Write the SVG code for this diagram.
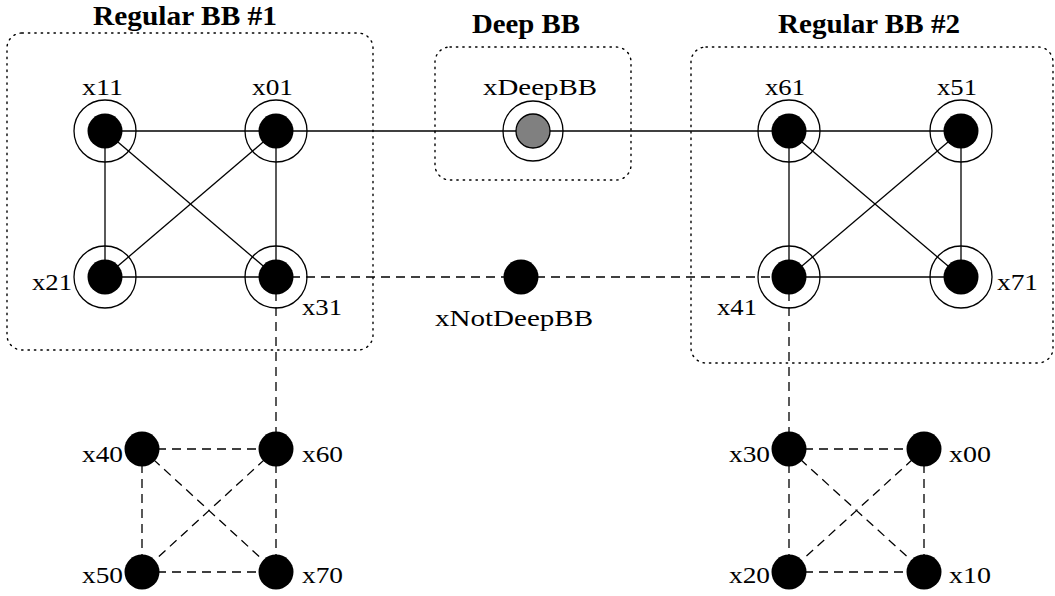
<svg xmlns="http://www.w3.org/2000/svg" width="1055" height="596" viewBox="0 0 1055 596">
  <style>
    .box { fill: none; stroke: #000; stroke-width: 1.4; stroke-dasharray: 1.4 5; stroke-linecap: round; }
    .title { font-family: "Liberation Serif", "Times New Roman", serif; font-weight: bold; font-size: 27px; fill: #000; }
    .lbl { font-family: "Liberation Serif", "Times New Roman", serif; font-size: 24px; fill: #000; }
    .solid { stroke: #000; stroke-width: 1.3; fill: none; }
    .dash { stroke: #000; stroke-width: 1.3; fill: none; stroke-dasharray: 9 6; }
    .ring { fill: none; stroke: #000; stroke-width: 1.3; }
    .core { fill: #000; }
    .deep { fill: #808080; stroke: #000; stroke-width: 1.3; }
  </style>

  <!-- basic-block frames -->
  <g id="frames">
    <rect class="box" x="7" y="33" width="366" height="317" rx="15" ry="15"/>
    <rect class="box" x="435" y="47" width="196" height="133" rx="15" ry="15"/>
    <rect class="box" x="691" y="47" width="362" height="316" rx="15" ry="15"/>
    <text class="title" x="93" y="25" textLength="184" lengthAdjust="spacingAndGlyphs">Regular BB #1</text>
    <text class="title" x="472" y="33" textLength="108" lengthAdjust="spacingAndGlyphs">Deep BB</text>
    <text class="title" x="778" y="33" textLength="182" lengthAdjust="spacingAndGlyphs">Regular BB #2</text>
  </g>

  <!-- edges -->
  <g id="connectors">
    <line class="solid" x1="105" y1="131" x2="276" y2="131"/>
    <line class="solid" x1="105" y1="131" x2="105" y2="277"/>
    <line class="solid" x1="105" y1="131" x2="276" y2="277"/>
    <line class="solid" x1="276" y1="131" x2="105" y2="277"/>
    <line class="solid" x1="276" y1="131" x2="276" y2="277"/>
    <line class="solid" x1="105" y1="277" x2="276" y2="277"/>
    <line class="solid" x1="276" y1="131" x2="533" y2="131"/>
    <line class="solid" x1="533" y1="131" x2="789" y2="131"/>
    <line class="solid" x1="789" y1="131" x2="961" y2="131"/>
    <line class="solid" x1="789" y1="131" x2="789" y2="277"/>
    <line class="solid" x1="789" y1="131" x2="961" y2="277"/>
    <line class="solid" x1="961" y1="131" x2="789" y2="277"/>
    <line class="solid" x1="961" y1="131" x2="961" y2="277"/>
    <line class="solid" x1="789" y1="277" x2="961" y2="277"/>

    <line class="dash" x1="276" y1="277" x2="521" y2="277"/>
    <line class="dash" x1="521" y1="277" x2="789" y2="277"/>
    <line class="dash" x1="276" y1="277" x2="276" y2="449"/>
    <line class="dash" x1="789" y1="277" x2="789" y2="449"/>

    <line class="dash" x1="142" y1="449" x2="276" y2="449"/>
    <line class="dash" x1="142" y1="449" x2="142" y2="572"/>
    <line class="dash" x1="142" y1="449" x2="276" y2="572"/>
    <line class="dash" x1="276" y1="449" x2="142" y2="572"/>
    <line class="dash" x1="276" y1="449" x2="276" y2="572"/>
    <line class="dash" x1="142" y1="572" x2="276" y2="572"/>

    <line class="dash" x1="789" y1="449" x2="924" y2="449"/>
    <line class="dash" x1="789" y1="449" x2="789" y2="572"/>
    <line class="dash" x1="789" y1="449" x2="924" y2="572"/>
    <line class="dash" x1="924" y1="449" x2="789" y2="572"/>
    <line class="dash" x1="924" y1="449" x2="924" y2="572"/>
    <line class="dash" x1="789" y1="572" x2="924" y2="572"/>
  </g>

  <!-- Regular BB #1 -->
  <g id="x11"><circle class="ring" cx="105" cy="131" r="31"/><circle class="core" cx="105" cy="131" r="17.5"/>
    <text class="lbl" x="82" y="95" textLength="41" lengthAdjust="spacingAndGlyphs">x11</text></g>
  <g id="x01"><circle class="ring" cx="276" cy="131" r="31"/><circle class="core" cx="276" cy="131" r="17.5"/>
    <text class="lbl" x="252" y="95" textLength="41" lengthAdjust="spacingAndGlyphs">x01</text></g>
  <g id="x21"><circle class="ring" cx="105" cy="277" r="31"/><circle class="core" cx="105" cy="277" r="17.5"/>
    <text class="lbl" x="32" y="290" textLength="40" lengthAdjust="spacingAndGlyphs">x21</text></g>
  <g id="x31"><circle class="ring" cx="276" cy="277" r="31"/><circle class="core" cx="276" cy="277" r="17.5"/>
    <text class="lbl" x="302" y="315" textLength="40" lengthAdjust="spacingAndGlyphs">x31</text></g>

  <!-- Deep BB -->
  <g id="xDeepBB"><circle class="ring" cx="533" cy="131" r="30"/><circle class="deep" cx="533" cy="131" r="17"/>
    <text class="lbl" x="483" y="95" textLength="114" lengthAdjust="spacingAndGlyphs">xDeepBB</text></g>

  <g id="xNotDeepBB"><circle class="core" cx="521" cy="277" r="17.5"/>
    <text class="lbl" x="435" y="326" textLength="158" lengthAdjust="spacingAndGlyphs">xNotDeepBB</text></g>

  <!-- Regular BB #2 -->
  <g id="x61"><circle class="ring" cx="789" cy="131" r="31"/><circle class="core" cx="789" cy="131" r="17.5"/>
    <text class="lbl" x="765" y="95" textLength="40" lengthAdjust="spacingAndGlyphs">x61</text></g>
  <g id="x51"><circle class="ring" cx="961" cy="131" r="31"/><circle class="core" cx="961" cy="131" r="17.5"/>
    <text class="lbl" x="937" y="95" textLength="40" lengthAdjust="spacingAndGlyphs">x51</text></g>
  <g id="x41"><circle class="ring" cx="789" cy="277" r="31"/><circle class="core" cx="789" cy="277" r="17.5"/>
    <text class="lbl" x="717" y="315" textLength="40" lengthAdjust="spacingAndGlyphs">x41</text></g>
  <g id="x71"><circle class="ring" cx="961" cy="277" r="31"/><circle class="core" cx="961" cy="277" r="17.5"/>
    <text class="lbl" x="997" y="290" textLength="41" lengthAdjust="spacingAndGlyphs">x71</text></g>

  <!-- lower-left group -->
  <g id="x40"><circle class="core" cx="142" cy="449" r="17.5"/>
    <text class="lbl" x="82" y="462" textLength="41" lengthAdjust="spacingAndGlyphs">x40</text></g>
  <g id="x60"><circle class="core" cx="276" cy="449" r="17.5"/>
    <text class="lbl" x="302" y="462" textLength="41" lengthAdjust="spacingAndGlyphs">x60</text></g>
  <g id="x50"><circle class="core" cx="142" cy="572" r="17.5"/>
    <text class="lbl" x="82" y="583" textLength="41" lengthAdjust="spacingAndGlyphs">x50</text></g>
  <g id="x70"><circle class="core" cx="276" cy="572" r="17.5"/>
    <text class="lbl" x="302" y="583" textLength="41" lengthAdjust="spacingAndGlyphs">x70</text></g>

  <!-- lower-right group -->
  <g id="x30"><circle class="core" cx="789" cy="449" r="17.5"/>
    <text class="lbl" x="729" y="462" textLength="41" lengthAdjust="spacingAndGlyphs">x30</text></g>
  <g id="x00"><circle class="core" cx="924" cy="449" r="17.5"/>
    <text class="lbl" x="949" y="462" textLength="42" lengthAdjust="spacingAndGlyphs">x00</text></g>
  <g id="x20"><circle class="core" cx="789" cy="572" r="17.5"/>
    <text class="lbl" x="729" y="583" textLength="41" lengthAdjust="spacingAndGlyphs">x20</text></g>
  <g id="x10"><circle class="core" cx="924" cy="572" r="17.5"/>
    <text class="lbl" x="949" y="583" textLength="42" lengthAdjust="spacingAndGlyphs">x10</text></g>
</svg>
